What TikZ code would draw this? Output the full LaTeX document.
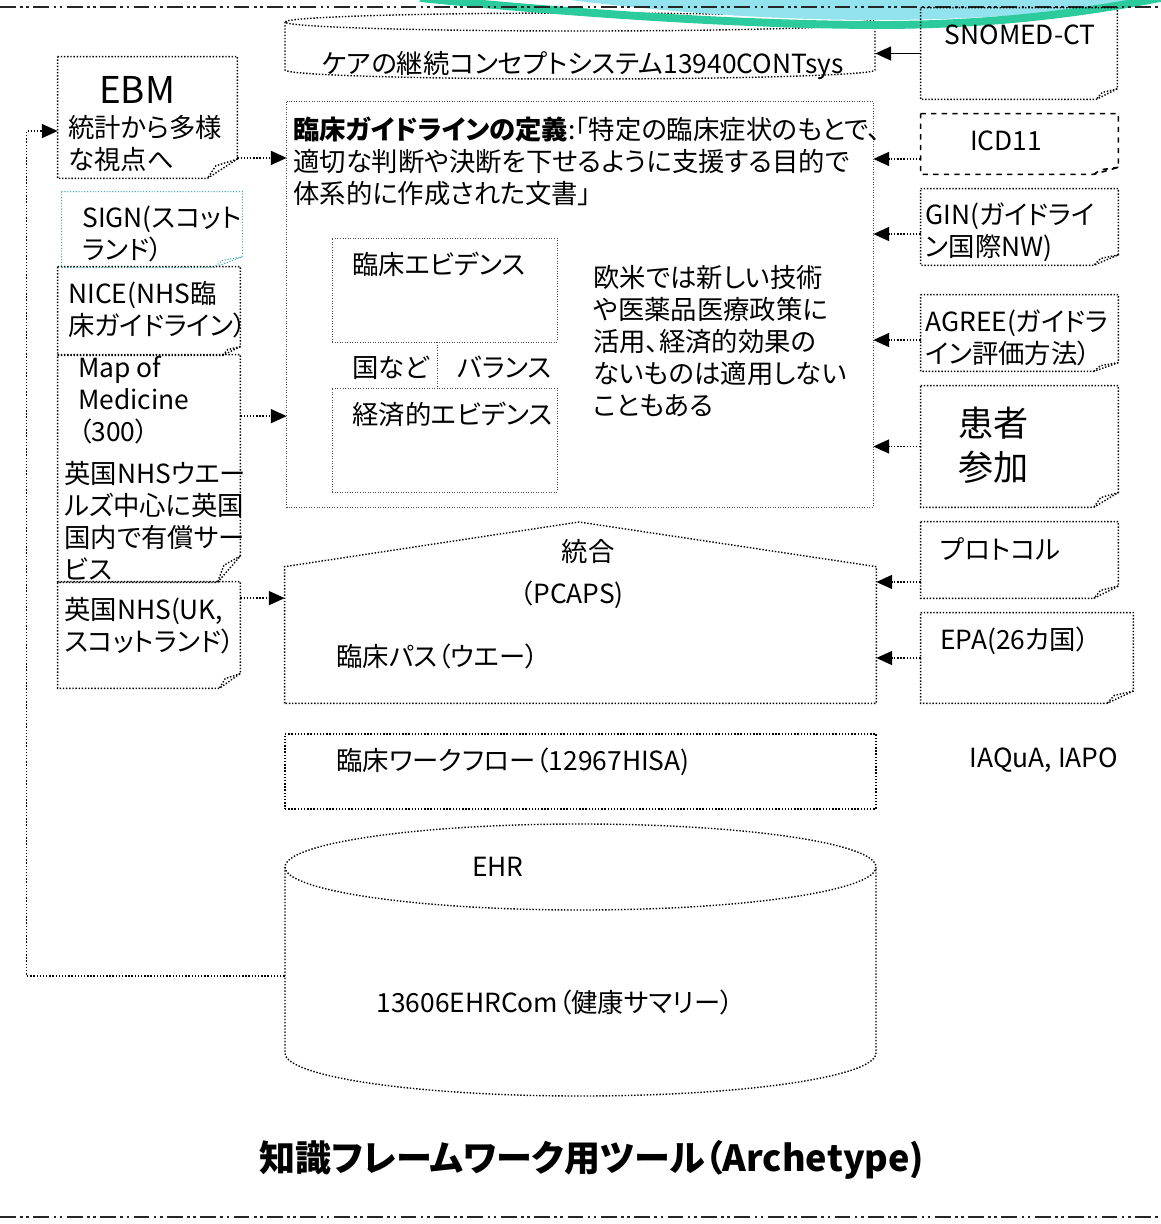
\documentclass[tikz,border=0pt]{standalone}
\usepackage{fontspec}
\setmainfont{Noto Sans CJK JP}[RawFeature=+palt]
\usetikzlibrary{arrows.meta, calc, positioning}
\definecolor{signblue}{HTML}{3FA9B8}
\definecolor{swteal}{HTML}{2CCB9E}
\definecolor{swsky}{HTML}{93E3EE}
\newcommand{\fs}{\fontsize{15}{18.1}\selectfont}
% note with folded corner: node, fold width, fold height
\newcommand{\notefrm}[4][]{%
  \draw[notedot,#1] (#2.north west) -- (#2.north east) -- ([yshift=#4]#2.south east)
    -- ([xshift=-#3]#2.south east) -- (#2.south west) -- cycle;
  \draw[notedot,#1] ([yshift=#4]#2.south east) -- ([xshift=-0.72*#3,yshift=0.65*#4]#2.south east)
    -- ([xshift=-#3]#2.south east);}
\tikzset{
  boxn/.style 2 args={minimum width=#1*0.02cm, minimum height=#2*0.02cm, inner sep=0pt, draw=none},
  notedot/.style={densely dotted, line width=0.8pt},
  thindot/.style={densely dotted, line width=0.45pt, black!70},
  txt/.style={font=\fs, anchor=base west, inner sep=0pt, align=left},
  ctxt/.style={font=\fs, inner sep=0pt},
  conn/.style={densely dotted, line width=0.8pt, ->},
  sepline/.style={line width=1.1pt, black!85, dash pattern=on 9pt off 2.5pt on 1.5pt off 2pt on 1.5pt off 2.5pt}
}

\begin{document}
\begin{tikzpicture}[x=0.02cm,y=-0.02cm,>={Triangle[length=9pt,width=8pt]}]
\useasboundingbox[fill=white] (0,0) rectangle (1160,1224);
% CONTsys cylinder
\draw[notedot] (580,22) ellipse (295 and 9);
\draw[notedot] (285,22) -- (285,70) arc (180:0:295 and 9) -- (875,22);
\node[boxn={590}{48}] (cont) at (580,46) {};

% swoosh
\fill[swsky] (570,0) .. controls (700,16) and (800,20) .. (880,20) .. controls (1000,20) and (1100,8) .. (1160,0) -- cycle;
\draw[swteal, line width=4.5pt] (420,-2) .. controls (560,12) and (740,25) .. (880,25) .. controls (1010,25) and (1110,8) .. (1170,-4);
\draw[sepline] (0,7) -- (1160,7);
\draw[sepline] (0,1217) -- (1160,1217);
\node[ctxt] (contt) at (583,65) {ケアの継続コンセプトシステム13940CONTsys};

% left column (text nodes sit on the baseline of their last line)
\node[boxn={179}{121}] (ebm) at (147.5,117.5) {};
\notefrm{ebm}{17pt}{11pt}
\node[font=\fontsize{21}{24}\selectfont, inner sep=0pt] (ebmt) at (137,90) {EBM};
\node[txt] (ebmb) at (68,169) {統計から多様\\な視点へ};

\node[boxn={180}{75}] (sign) at (152,229.5) {};
\notefrm[signblue, line width=0.6pt]{sign}{16pt}{6pt}
\node[txt] (signt) at (82,259) {SIGN(スコット\\ランド）};

\node[boxn={182}{88}] (nice) at (149,311) {};
\notefrm{nice}{10pt}{5pt}
\node[txt] (nicet) at (68,335) {NICE(NHS臨\\床ガイドライン）};

\node[boxn={182}{227}] (map) at (149,468.5) {};
\notefrm{map}{13pt}{15pt}
\node[txt] (mapt) at (78,441) {Map of\\Medicine\\（300）};
\node[txt] (mapb) at (64,579) {英国NHSウエー\\ルズ中心に英国\\国内で有償サー\\ビス};

\node[boxn={182}{106}] (nhs) at (149,635) {};
\notefrm{nhs}{12pt}{8.5pt}
\node[txt] (nhst) at (64,651) {英国NHS(UK,\\スコットランド）};

% guideline box
\node[boxn={586}{405}] (guide) at (580,304.5) {};
\draw[thindot] (guide.north west) rectangle (guide.south east);
\node[txt] (guidet) at (293,203) {\textbf{臨床ガイドラインの定義}:「特定の臨床症状のもとで、\\適切な判断や決断を下せるように支援する目的で\\体系的に作成された文書」};
\node[boxn={225}{104}, thindot, draw] (ce1) at (444.5,290) {};
\node[boxn={225}{104}, thindot, draw] (ce2) at (444.5,440) {};
\draw[thindot] ([xshift=-4.3pt]ce1.south) -- ([xshift=-4.3pt]ce2.north);
\node[txt] (ce1t) at (352,274) {臨床エビデンス};
\node[txt] (ce2t) at (352,424) {経済的エビデンス};
\node[txt] (kuni) at (352,377) {国など};
\node[txt] (bal) at (457,377) {バランス};
\node[txt] (oubei) at (593,415) {欧米では新しい技術\\や医薬品医療政策に\\活用、経済的効果の\\ないものは適用しない\\こともある};

% PCAPS
\node[boxn={591}{136}] (pcaps) at (580.5,635) {};
\draw[notedot] (pcaps.south west) -- (pcaps.north west) -- (579,522) -- (pcaps.north east) -- (pcaps.south east) -- cycle;
\node[ctxt] (tougou) at (588,552) {統合};
\node[ctxt] (pcapst) at (572,595) {（PCAPS)};
\node[txt] (pasu) at (336,666) {臨床パス（ウエー）};

% workflow
\node[boxn={591}{75}, notedot, draw] (wf) at (580.5,771.5) {};
\node[txt] (wft) at (336,770) {臨床ワークフロー（12967HISA)};

% EHR cylinder
\draw[notedot] (580.5,867) ellipse (295.5 and 43);
\draw[notedot] (285,867) -- (285,1053) arc (180:0:295.5 and 43) -- (876,867);
\node[boxn={591}{186}] (ehr) at (580.5,960) {};
\node[ctxt] (ehrt) at (498,867) {EHR};
\node[ctxt] (ehrb) at (555,1002) {13606EHRCom（健康サマリー）};

% right column
\node[boxn={196}{91}] (snomed) at (1019,53.5) {};
\notefrm{snomed}{12pt}{6pt}
\node[ctxt] (snomedt) at (1020,35) {SNOMED-CT};

\node[boxn={197}{60}] (icd) at (1019.5,144) {};
\notefrm[solid, dashed, line width=0.9pt]{icd}{14pt}{4pt}
\node[ctxt] (icdt) at (1006,141) {ICD11};

\node[boxn={197}{76}] (gin) at (1019.5,227) {};
\notefrm{gin}{14pt}{6pt}
\node[txt] (gint) at (925,256) {GIN(ガイドライ\\ン国際NW)};

\node[boxn={197}{76}] (agree) at (1019.5,333) {};
\notefrm{agree}{14pt}{5pt}
\node[txt] (agreet) at (925,363) {AGREE(ガイドラ\\イン評価方法）};

\node[boxn={197}{121}] (kanja) at (1019.5,446.5) {};
\notefrm{kanja}{14pt}{8.5pt}
\node[txt, font=\fontsize{20}{25}\selectfont] (kanjat) at (958,480) {患者\\参加};

\node[boxn={197}{76}] (proto) at (1019.5,560) {};
\notefrm{proto}{14pt}{7pt}
\node[txt] (protot) at (940,559) {プロトコル};

\node[boxn={212}{90}] (epa) at (1027,658) {};
\notefrm{epa}{15pt}{7pt}
\node[txt] (epat) at (940,649) {EPA(26カ国）};

\node[ctxt] (iaqua) at (1044,760) {IAQuA, IAPO};

% connectors
\draw[line width=0.9pt, ->] (snomed.west) -- (snomed.west -| cont.east);
\draw[conn] ([yshift=-8.5pt]icd.west) coordinate (a1) -- (a1 -| guide.east);
\draw[conn] ([yshift=-4pt]gin.west) coordinate (a2) -- (a2 -| guide.east);
\draw[conn] ([yshift=-4pt]agree.west) coordinate (a3) -- (a3 -| guide.east);
\draw[conn] (kanja.west) -- (kanja.west -| guide.east);
\draw[conn] ([yshift=-12.5pt]proto.west) coordinate (a4) -- (a4 -| pcaps.east);
\draw[conn] (epa.west) -- (epa.west -| pcaps.east);
\draw[conn] ([yshift=-23pt]ebm.east) coordinate (b1) -- (b1 -| guide.west);
\draw[conn] ([yshift=29.8pt]map.east) coordinate (b2) -- (b2 -| guide.west);
\draw[conn] ([yshift=21pt]nhs.east) coordinate (b3) -- (b3 -| pcaps.west);
\draw[conn] ([yshift=-9pt]ehr.west) -- ++(-258,0) |- ([yshift=-7.7pt]ebm.west);

\node[font=\fontsize{20.5}{24}\selectfont\bfseries, inner sep=0pt] (title) at (592,1160) {知識フレームワーク用ツール（Archetype)};
\end{tikzpicture}
\end{document}
